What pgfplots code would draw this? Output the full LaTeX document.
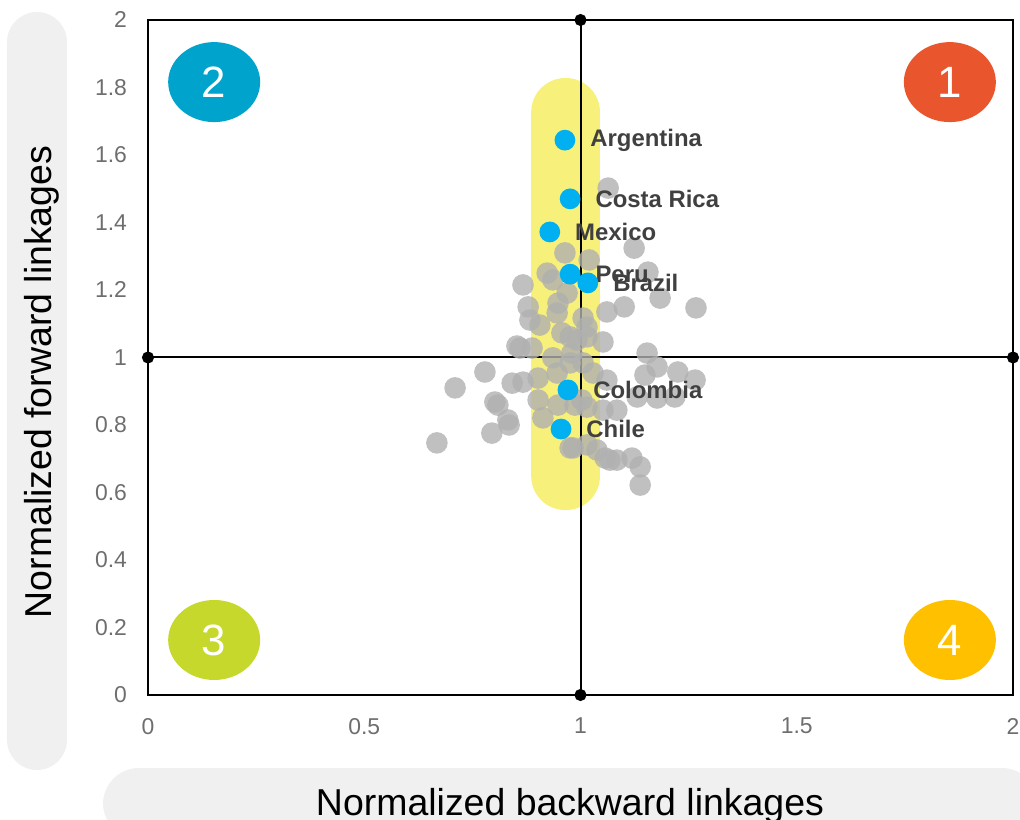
\documentclass[border=0pt]{standalone}
\usepackage{fontspec}
\setmainfont{Liberation Sans}
\usepackage{pgfplots}
\usepackage{pgfplotstable}
\pgfplotsset{compat=1.18}

\definecolor{ptgrey}{RGB}{176,176,176}
\definecolor{ptblue}{RGB}{0,176,240}
\definecolor{band}{RGB}{247,240,122}
\definecolor{qone}{RGB}{233,85,44}
\definecolor{qtwo}{RGB}{0,163,204}
\definecolor{qthree}{RGB}{197,216,43}
\definecolor{qfour}{RGB}{255,192,0}
\definecolor{panel}{RGB}{240,240,240}
\definecolor{ticktext}{RGB}{110,110,110}
\definecolor{lbltext}{RGB}{64,64,64}

% all other economies
\pgfplotstableread{
x y
1.064 1.502
0.964 1.310
1.124 1.324
1.020 1.289
0.923 1.250
0.867 1.215
1.156 1.253
1.184 1.176
1.267 1.147
1.101 1.150
1.061 1.135
0.969 1.191
0.936 1.230
0.948 1.161
0.879 1.150
0.946 1.132
0.906 1.096
0.883 1.111
1.006 1.117
1.015 1.090
1.052 1.046
0.957 1.073
0.992 1.052
0.860 1.028
0.888 1.028
0.980 1.013
1.154 1.013
1.177 0.972
1.149 0.948
1.225 0.957
1.265 0.933
1.218 0.883
1.177 0.880
1.131 0.883
1.084 0.844
1.061 0.933
1.029 0.954
1.015 0.741
1.068 0.696
1.119 0.702
1.138 0.676
1.138 0.622
0.976 0.732
1.057 0.702
0.779 0.957
0.710 0.910
0.842 0.924
0.867 0.927
0.802 0.868
0.809 0.859
0.832 0.815
0.835 0.800
0.795 0.776
0.668 0.747
0.902 0.939
0.902 0.874
0.913 0.821
0.946 0.954
0.948 0.859
1.015 0.853
1.052 0.844
1.003 0.874
0.976 0.984
1.006 0.984
0.976 1.061
1.015 1.061
0.853 1.034
0.987 0.859
1.084 0.696
1.038 0.726
0.983 0.732
0.936 0.999
}\others

% Latin American economies
\pgfplotstableread{
x y label
0.964 1.644 Argentina
0.976 1.470 {Costa Rica}
0.929 1.372 Mexico
0.976 1.247 Peru
1.017 1.221 Brazil
0.971 0.904 Colombia
0.955 0.788 Chile
}\latam

\begin{document}
\begin{tikzpicture}
\useasboundingbox (-74bp,-62.5bp) rectangle (436bp,347.5bp);
% label panels
\begin{scope}
\clip (-74bp,-62.5bp) rectangle (436bp,347.5bp);
\fill[panel, rounded corners=15bp] (-70.5bp,-37.5bp) rectangle (-40.5bp,341.5bp);
\fill[panel, rounded corners=18bp] (-22.5bp,-72bp) rectangle (445bp,-36.5bp);
\end{scope}
\node[rotate=90, anchor=base, font=\fontsize{18.8}{20}\selectfont] at (-48bp,156.5bp) {Normalized forward linkages};
\node[anchor=base, font=\fontsize{18.8}{20}\selectfont] at (211bp,-60bp) {Normalized backward linkages};

\begin{axis}[
  scale only axis, width=432.5bp, height=337.5bp,
  at={(0,0)}, anchor=south west,
  xmin=0, xmax=2, ymin=0, ymax=2,
  xtick={0,0.5,1,1.5,2},
  ytick={0,0.2,0.4,0.6,0.8,1,1.2,1.4,1.6,1.8,2},
  major tick length=0,
  axis line style={line width=1.25bp, black},
  ticklabel style={font=\fontsize{11.5}{12}\selectfont, text=ticktext},
  /pgf/number format/assume math mode=true,
  yticklabel style={xshift=-7bp},
  xticklabel style={yshift=-8bp},
  clip=false,
]
% highlighted band
\fill[band, rounded corners=17bp] (axis cs:0.886,0.548) rectangle (axis cs:1.045,1.828);

% quadrant dividers
\addplot[black, line width=1bp, mark=*, mark size=2.5bp] coordinates {(1,0) (1,2)};
\addplot[black, line width=1bp, mark=*, mark size=2.5bp] coordinates {(0,1) (2,1)};

% quadrant badges
\fill[qone] (axis cs:1.854,1.816) ellipse (23bp and 20bp);
\fill[qtwo] (axis cs:0.153,1.816) ellipse (23bp and 20bp);
\fill[qthree] (axis cs:0.153,0.163) ellipse (23bp and 20bp);
\fill[qfour] (axis cs:1.854,0.163) ellipse (23bp and 20bp);
\node[text=white, font=\fontsize{22}{22}\selectfont] at (axis cs:1.854,1.816) {1};
\node[text=white, font=\fontsize{22}{22}\selectfont] at (axis cs:0.153,1.816) {2};
\node[text=white, font=\fontsize{22}{22}\selectfont] at (axis cs:0.153,0.163) {3};
\node[text=white, font=\fontsize{22}{22}\selectfont] at (axis cs:1.854,0.163) {4};

\addplot[only marks, mark=*, mark size=5.4bp, color=ptgrey,
  mark options={fill=ptgrey, fill opacity=0.8, draw opacity=0}] table[x=x, y=y] {\others};

\addplot[only marks, mark=*, mark size=5.2bp, color=ptblue,
  mark options={fill=ptblue, draw opacity=0},
  nodes near coords, point meta=explicit symbolic,
  nodes near coords style={anchor=west, inner sep=0pt, xshift=12.5bp,
    font=\bfseries\fontsize{12}{12}\selectfont, text=lbltext}]
  table[x=x, y=y, meta=label] {\latam};
\end{axis}
\end{tikzpicture}
\end{document}
